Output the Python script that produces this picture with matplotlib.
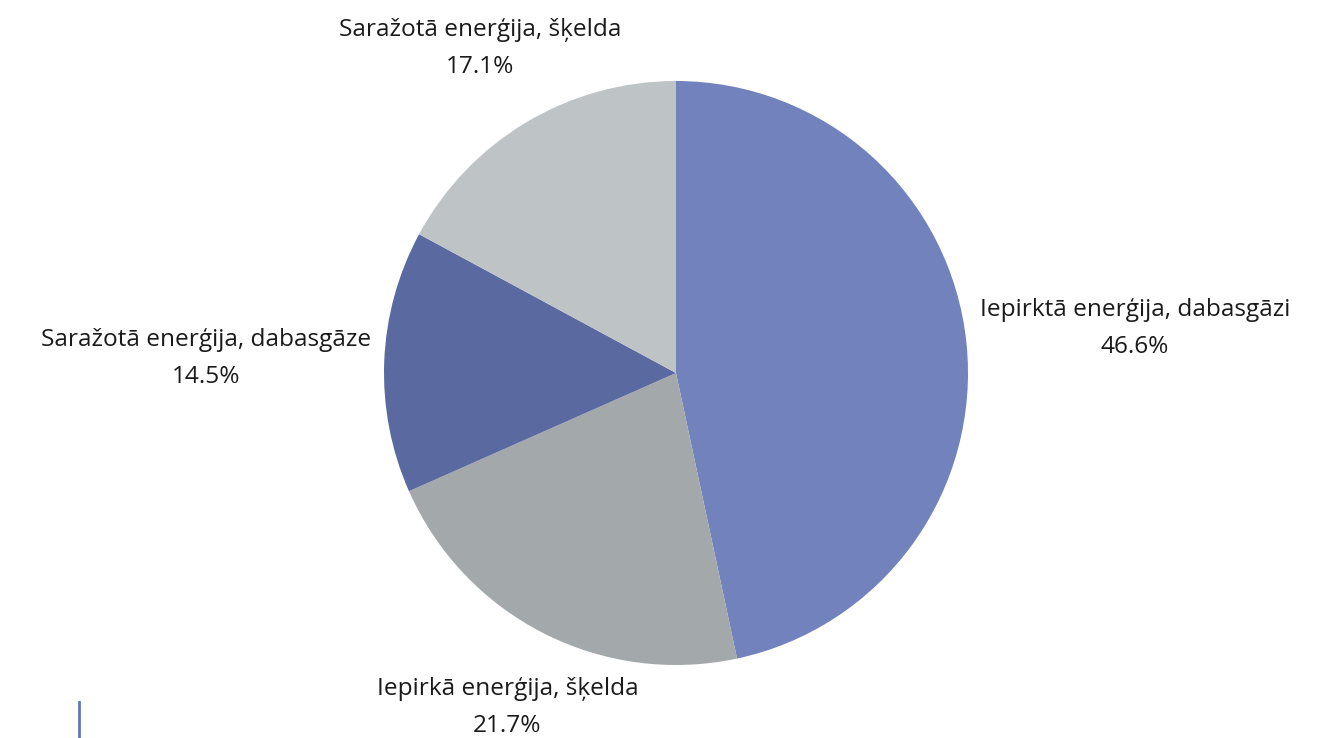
import numpy as np
import matplotlib
matplotlib.use("Agg")
import matplotlib.pyplot as plt
from matplotlib.lines import Line2D

labels = ["Iepirktā enerģija, dabasgāzi", "Iepirkā enerģija, šķelda",
          "Saražotā enerģija, dabasgāze", "Saražotā enerģija, šķelda"]
values = [46.6, 21.7, 14.5, 17.1]
colors = ["#7182BC", "#A3A8AB", "#5A6AA0", "#BEC3C6"]
label_dist = [1.58, 1.27, 1.61, 1.31]

W, H = 1338, 738
fig = plt.figure(figsize=(W / 100, H / 100), dpi=100)
ax = fig.add_axes([0, 0, 1, 1])
ax.set_xlim(0, W)
ax.set_ylim(0, H)
ax.set_aspect("equal")
ax.axis("off")

cx, cy, r = 676, 365, 292
wedges, _ = ax.pie(values, colors=colors, startangle=90, counterclock=False,
                   center=(cx, cy), radius=r, frame=True,
                   wedgeprops=dict(linewidth=0))
ax.set_xlim(0, W)
ax.set_ylim(0, H)
ax.axis("off")

plt.rcParams['font.family'] = ['Open Sans', 'DejaVu Sans']
for w, lab, v, d in zip(wedges, labels, values, label_dist):
    ang = np.deg2rad((w.theta1 + w.theta2) / 2)
    x = cx + r * d * np.cos(ang)
    y = cy + r * d * np.sin(ang) - 4
    ax.text(x, y, f"{lab}\n{v:.1f}%", ha="center", va="center",
            fontsize=17.6, color="#1a1a1a", linespacing=1.72,
            family=['Open Sans', 'DejaVu Sans'])

fig.add_artist(Line2D([79 / W, 79 / W], [0, 36 / H], color="#6575B0", linewidth=2))

fig.savefig("out.png", dpi=100)
